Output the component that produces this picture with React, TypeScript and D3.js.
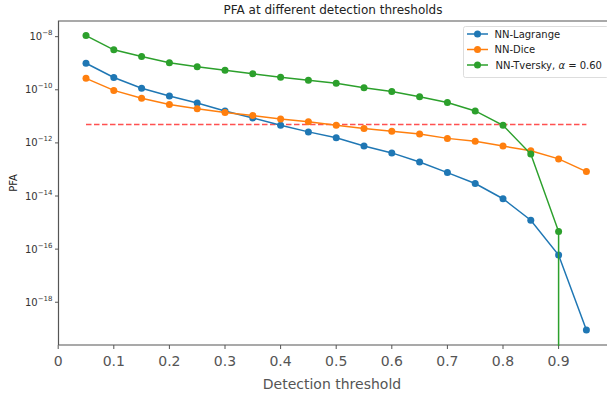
import React, { useEffect, useRef } from "react";
import * as d3 from "d3";

const thresholds = [0.05, 0.1, 0.15, 0.2, 0.25, 0.3, 0.35, 0.4, 0.45, 0.5, 0.55, 0.6, 0.65, 0.7, 0.75, 0.8, 0.85, 0.9, 0.95];
const lagrange = [1.0e-9, 2.9e-10, 1.15e-10, 5.8e-11, 3.2e-11, 1.6e-11, 8.7e-12, 4.6e-12, 2.6e-12, 1.55e-12, 7.6e-13, 4.2e-13, 1.9e-13, 7.6e-14, 2.95e-14, 7.9e-15, 1.23e-15, 6.0e-17, 9.1e-20];
const dice = [2.7e-10, 9.5e-11, 4.8e-11, 2.8e-11, 1.95e-11, 1.4e-11, 1.07e-11, 7.9e-12, 6.2e-12, 4.6e-12, 3.5e-12, 2.75e-12, 2.15e-12, 1.48e-12, 1.15e-12, 7.6e-13, 5.1e-13, 2.5e-13, 8.3e-14];
const tversky = [1.1e-8, 3.2e-9, 1.8e-9, 1.05e-9, 7.4e-10, 5.4e-10, 4.0e-10, 2.95e-10, 2.3e-10, 1.75e-10, 1.2e-10, 8.7e-11, 5.5e-11, 3.3e-11, 1.6e-11, 4.6e-12, 3.8e-13, 4.6e-16, 0];
const targetPfa = 4.9e-12;
const xTicks = [0, 0.1, 0.2, 0.3, 0.4, 0.5, 0.6, 0.7, 0.8, 0.9];
const yTickExps = [-8, -10, -12, -14, -16, -18];

const seriesList = [
  { name: "NN-Lagrange", values: lagrange, color: "#1f77b4" },
  { name: "NN-Dice", values: dice, color: "#ff7f0e" },
  { name: "NN-Tversky", values: tversky, color: "#2ca02c" },
];

const App = () => {
  const svgRef = useRef<SVGSVGElement>(null);
  const width = 607;
  const height = 399;

  useEffect(() => {
    const svg = d3.select(svgRef.current);
    svg.selectAll("*").remove();

    const left = 58.5, top = 21, bottom = 345;
    const font = "'DejaVu Sans', sans-serif";

    const x = d3.scaleLinear().domain([0, 1]).range([58.2, 614.2]);
    const y = d3.scaleLog().domain([Math.pow(10, -19.61), Math.pow(10, -7.41)]).range([bottom, top]);

    // frame
    svg.append("path")
      .attr("d", `M${left},${bottom}V${top}H${width + 5}`)
      .attr("fill", "none").attr("stroke", "#555").attr("stroke-width", 1.2);
    svg.append("line")
      .attr("x1", left).attr("x2", width + 5)
      .attr("y1", bottom).attr("y2", bottom)
      .attr("stroke", "#555").attr("stroke-width", 1.2);

    // x ticks
    const xt = svg.append("g");
    xTicks.forEach((t) => {
      xt.append("line").attr("x1", x(t)).attr("x2", x(t)).attr("y1", bottom).attr("y2", bottom + 4)
        .attr("stroke", "#555").attr("stroke-width", 1);
      xt.append("text").attr("x", x(t)).attr("y", bottom + 21)
        .attr("text-anchor", "middle").attr("fill", "#555")
        .style("font", `14px ${font}`).text(String(t));
    });

    // y ticks
    const yt = svg.append("g");
    yTickExps.forEach((e) => {
      const yy = y(Math.pow(10, e));
      yt.append("line").attr("x1", left - 3.5).attr("x2", left).attr("y1", yy).attr("y2", yy)
        .attr("stroke", "#555").attr("stroke-width", 1);
      const tx = yt.append("text").attr("x", left - 6).attr("y", yy + 3.5)
        .attr("text-anchor", "end").attr("fill", "#333").style("font", `10px ${font}`);
      tx.append("tspan").text("10");
      tx.append("tspan").attr("dy", -5).style("font-size", "7px").text(`\u2212${-e}`);
    });

    // labels
    svg.append("text").attr("x", 333).attr("y", 14).attr("text-anchor", "middle")
      .attr("fill", "#222").style("font", `12px ${font}`).text("PFA at different detection thresholds");
    svg.append("text").attr("x", 332).attr("y", 389).attr("text-anchor", "middle")
      .attr("fill", "#555").style("font", `14px ${font}`).text("Detection threshold");
    svg.append("text").attr("transform", `translate(17,${(top + bottom) / 2}) rotate(-90)`)
      .attr("text-anchor", "middle").attr("fill", "#222").style("font", `10px ${font}`).text("PFA");

    const plot = svg.append("g");

    // threshold line
    plot.append("line")
      .attr("x1", x(thresholds[0])).attr("x2", x(thresholds[thresholds.length - 1]))
      .attr("y1", y(targetPfa)).attr("y2", y(targetPfa))
      .attr("stroke", "#ff3333").attr("stroke-opacity", 0.85)
      .attr("stroke-width", 1.5).attr("stroke-dasharray", "5.5,2.5");

    seriesList.forEach((s) => {
      const pts = thresholds.map((t, i) => [t, s.values[i]] as [number, number]);
      const finite = pts.filter((p) => p[1] > 0);
      const line = d3.line<[number, number]>().x((d) => x(d[0])).y((d) => y(d[1]));
      let d = line(finite) || "";
      // a zero value drops straight down on a log axis
      const zeroIdx = pts.findIndex((p) => p[1] <= 0);
      if (zeroIdx > 0) d += `L${x(pts[zeroIdx - 1][0])},${bottom + 1}`;
      plot.append("path").attr("d", d).attr("fill", "none")
        .attr("stroke", s.color).attr("stroke-width", 1.5);
      plot.selectAll(null).data(finite).join("circle")
        .attr("cx", (p) => x(p[0])).attr("cy", (p) => y(p[1])).attr("r", 3.5)
        .attr("fill", s.color);
    });

    // legend
    const lg = svg.append("g");
    lg.append("rect").attr("x", 463.5).attr("y", 26.5).attr("width", 145).attr("height", 51)
      .attr("rx", 2).attr("fill", "white").attr("fill-opacity", 0.8).attr("stroke", "#ddd");
    seriesList.forEach((s, i) => {
      const ly = 34 + i * 15.5;
      lg.append("line").attr("x1", 467).attr("x2", 488).attr("y1", ly).attr("y2", ly)
        .attr("stroke", s.color).attr("stroke-width", 1.5);
      lg.append("circle").attr("cx", 477.5).attr("cy", ly).attr("r", 3.5).attr("fill", s.color);
      const t = lg.append("text").attr("x", i === 2 ? 495.5 : 494.5).attr("y", ly + 3.5)
        .attr("fill", "#222").style("font", `10px ${font}`);
      if (i === 2) {
        t.append("tspan").text("NN-Tversky, ");
        t.append("tspan").style("font-style", "italic").text("\u03b1");
        t.append("tspan").text(" = 0.60");
      } else {
        t.text(s.name);
      }
    });
  }, []);

  return (
    <svg ref={svgRef} width={width} height={height} viewBox={`0 0 ${width} ${height}`}
      style={{ position: "absolute", left: 0, top: 0, background: "white" }} />
  );
};

export default App;
